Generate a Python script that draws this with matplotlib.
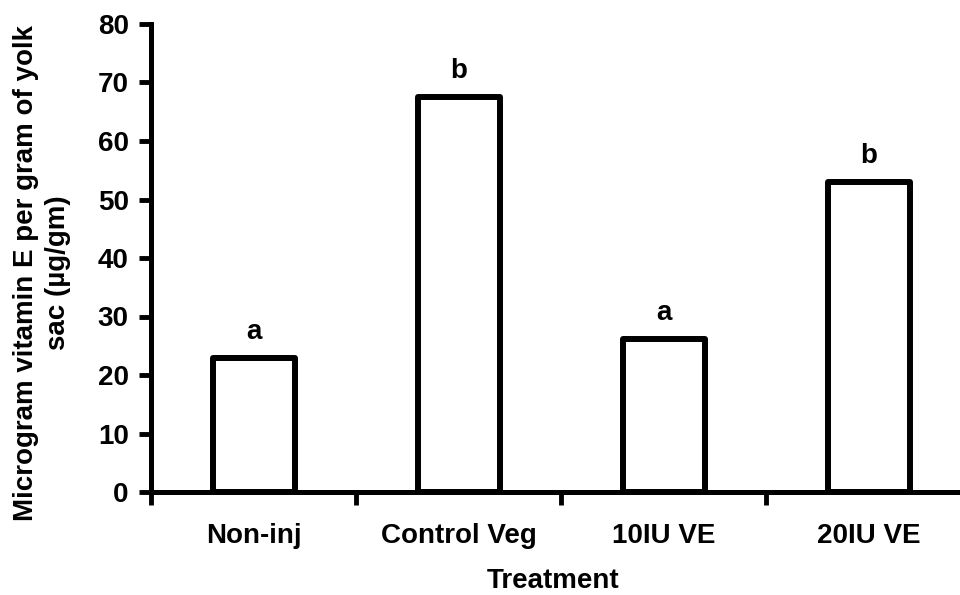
import matplotlib
matplotlib.use('Agg')
import matplotlib.pyplot as plt
import numpy as np

# data
treatments = ['Non-inj', 'Control Veg', '10IU VE', '20IU VE']
vit_e = [22.9, 67.5, 26.2, 53.0]
letters = ['a', 'b', 'a', 'b']

plt.rcParams['font.family'] = ['Liberation Sans', 'DejaVu Sans']
plt.rcParams['font.weight'] = 'bold'
fs = 20

fig = plt.figure(figsize=(9.6, 5.95), dpi=100)
ax = fig.add_axes([151 / 960, 103 / 595, 820 / 960, 468 / 595])

x = np.arange(len(treatments))
ax.bar(x, vit_e, width=0.4, color='white', edgecolor='black', linewidth=4.3,
       joinstyle='round')

for xi, v, s in zip(x, vit_e, letters):
    ax.text(xi, v + 2.2, s, ha='center', va='bottom', fontsize=fs, fontweight='bold')

ax.set_xlim(-0.5, len(treatments) - 0.5)
ax.set_ylim(0, 80)
ax.set_yticks(np.arange(0, 81, 10))

# labels at bar centres, tick marks between categories
ax.set_xticks(x)
ax.set_xticklabels(treatments)
ax.set_xticks(np.arange(-0.5, len(treatments)), minor=True)
ax.tick_params(axis='x', which='major', length=0, pad=22, labelsize=fs)
ax.tick_params(axis='x', which='minor', length=9, width=3.5)
ax.tick_params(axis='y', length=9, width=3.5, pad=7, labelsize=fs)

for side in ['top', 'right']:
    ax.spines[side].set_visible(False)
for side in ['left', 'bottom']:
    ax.spines[side].set_linewidth(3.6)

ax.set_ylabel('Microgram vitamin E per gram of yolk\nsac (\u00b5g/gm)', fontsize=fs,
              fontweight='bold', linespacing=1.3)
ax.yaxis.set_label_coords(-0.097, 0.468)
ax.set_xlabel('Treatment', fontsize=fs, fontweight='bold')
ax.xaxis.set_label_coords(0.49, -0.162)

fig.savefig('out.png', dpi=100)
plt.close(fig)
